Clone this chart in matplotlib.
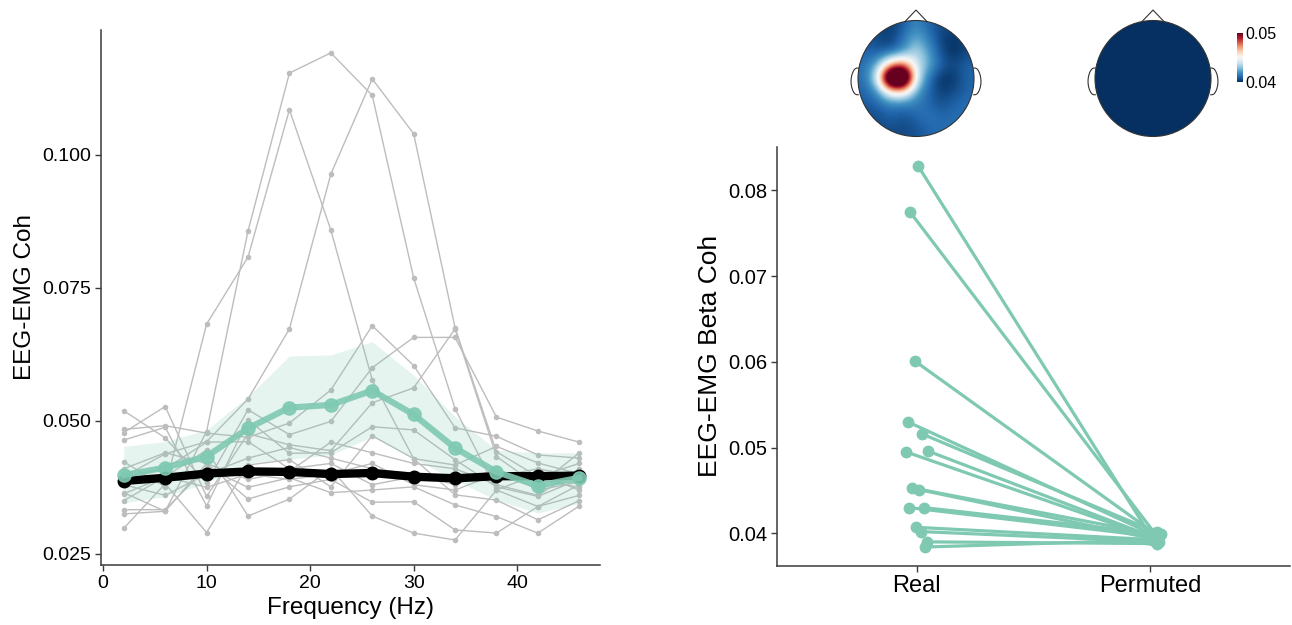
import numpy as np
import matplotlib
matplotlib.use("Agg")
import matplotlib.pyplot as plt
from matplotlib.patches import Circle
from matplotlib.cm import ScalarMappable
from matplotlib.colors import Normalize

plt.rcParams['font.family'] = ['Liberation Sans', 'DejaVu Sans']

# ---------------- data ----------------
freqs = [2, 6, 10, 14, 18, 22, 26, 30, 34, 38, 42, 46]

subject_coh = [
    [0.0365, 0.0330, 0.0480, 0.0857, 0.1154, 0.1192, 0.1112, 0.0769, 0.0523, 0.0370, 0.0339, 0.0380],
    [0.0423, 0.0376, 0.0682, 0.0808, 0.1085, 0.0859, 0.0577, 0.0429, 0.0417, 0.0452, 0.0421, 0.0400],
    [0.0395, 0.0438, 0.0461, 0.0541, 0.0673, 0.0964, 0.1143, 0.1040, 0.0675, 0.0442, 0.0395, 0.0420],
    [0.0484, 0.0491, 0.0477, 0.0469, 0.0496, 0.0558, 0.0679, 0.0604, 0.0487, 0.0471, 0.0436, 0.0430],
    [0.0519, 0.0468, 0.0383, 0.0521, 0.0474, 0.0499, 0.0600, 0.0657, 0.0657, 0.0507, 0.0481, 0.0460],
    [0.0478, 0.0527, 0.0358, 0.0476, 0.0455, 0.0444, 0.0534, 0.0562, 0.0673, 0.0433, 0.0378, 0.0440],
    [0.0464, 0.0488, 0.0340, 0.0502, 0.0439, 0.0440, 0.0489, 0.0483, 0.0427, 0.0376, 0.0358, 0.0390],
    [0.0298, 0.0382, 0.0290, 0.0417, 0.0427, 0.0376, 0.0472, 0.0429, 0.0361, 0.0351, 0.0314, 0.0350],
    [0.0333, 0.0333, 0.0412, 0.0375, 0.0393, 0.0365, 0.0370, 0.0376, 0.0342, 0.0320, 0.0289, 0.0340],
    [0.0325, 0.0330, 0.0420, 0.0353, 0.0376, 0.0390, 0.0347, 0.0348, 0.0295, 0.0289, 0.0339, 0.0360],
    [0.0363, 0.0395, 0.0445, 0.0321, 0.0353, 0.0410, 0.0321, 0.0289, 0.0276, 0.0370, 0.0400, 0.0370],
    [0.0395, 0.0410, 0.0460, 0.0461, 0.0410, 0.0420, 0.0380, 0.0395, 0.0400, 0.0395, 0.0410, 0.0395],
    [0.0380, 0.0360, 0.0400, 0.0430, 0.0450, 0.0430, 0.0410, 0.0400, 0.0380, 0.0410, 0.0370, 0.0385],
    [0.0410, 0.0440, 0.0420, 0.0390, 0.0405, 0.0460, 0.0440, 0.0420, 0.0410, 0.0380, 0.0360, 0.0410],
    [0.0350, 0.0395, 0.0375, 0.0400, 0.0390, 0.0400, 0.0420, 0.0380, 0.0370, 0.0400, 0.0390, 0.0375],
]

real_mean = [0.0398, 0.0412, 0.0433, 0.0486, 0.0525, 0.0530, 0.0557, 0.0512, 0.0449, 0.0404, 0.0378, 0.0393]
real_ci_low = [0.0346, 0.0358, 0.0383, 0.0421, 0.0428, 0.0436, 0.0470, 0.0430, 0.0389, 0.0351, 0.0327, 0.0345]
real_ci_high = [0.0452, 0.0461, 0.0483, 0.0546, 0.0622, 0.0624, 0.0649, 0.0586, 0.0508, 0.0445, 0.0440, 0.0440]

perm_mean = [0.0387, 0.0393, 0.0401, 0.0405, 0.0404, 0.0400, 0.0402, 0.0395, 0.0392, 0.0396, 0.0396, 0.0397]
perm_ci_low = [0.0381, 0.0388, 0.0396, 0.0400, 0.0399, 0.0395, 0.0397, 0.0390, 0.0387, 0.0391, 0.0391, 0.0392]
perm_ci_high = [0.0393, 0.0398, 0.0406, 0.0410, 0.0409, 0.0405, 0.0407, 0.0400, 0.0397, 0.0401, 0.0401, 0.0402]

conditions = ["Real", "Permuted"]
beta_real = [0.0829, 0.0775, 0.0601, 0.0530, 0.0516, 0.0495, 0.0496, 0.0453,
             0.0451, 0.0430, 0.0430, 0.0407, 0.0402, 0.0390, 0.0384]
beta_perm = [0.0398, 0.0400, 0.0396, 0.0399, 0.0401, 0.0397, 0.0395, 0.0398,
             0.0394, 0.0396, 0.0399, 0.0393, 0.0390, 0.0388, 0.0392]
real_jitter = [0.004, -0.030, -0.009, -0.039, 0.021, -0.047, 0.047, -0.021,
               0.009, -0.034, 0.030, -0.004, 0.017, 0.043, 0.034]
perm_jitter = [0.000, 0.020, 0.040, 0.010, 0.030, -0.010, 0.020, 0.035,
               0.005, 0.025, 0.045, -0.015, 0.040, 0.030, 0.010]

# topography grids (rows: front -> back, cols: left -> right)
topo_real = [
    [0.0408, 0.0405, 0.0402, 0.0408, 0.0418, 0.0410, 0.0405, 0.0405, 0.0408],
    [0.0408, 0.0405, 0.0402, 0.0412, 0.0428, 0.0415, 0.0403, 0.0400, 0.0405],
    [0.0410, 0.0408, 0.0410, 0.0420, 0.0437, 0.0422, 0.0405, 0.0400, 0.0405],
    [0.0412, 0.0425, 0.0470, 0.0485, 0.0442, 0.0425, 0.0408, 0.0405, 0.0410],
    [0.0412, 0.0440, 0.0560, 0.0570, 0.0445, 0.0412, 0.0400, 0.0402, 0.0410],
    [0.0410, 0.0418, 0.0458, 0.0462, 0.0425, 0.0410, 0.0402, 0.0405, 0.0410],
    [0.0408, 0.0410, 0.0415, 0.0415, 0.0415, 0.0410, 0.0406, 0.0410, 0.0412],
    [0.0405, 0.0405, 0.0410, 0.0406, 0.0410, 0.0414, 0.0410, 0.0412, 0.0412],
    [0.0405, 0.0405, 0.0405, 0.0405, 0.0406, 0.0410, 0.0412, 0.0412, 0.0408],
]
topo_perm = [
    [0.0390, 0.0390, 0.0390],
    [0.0390, 0.0390, 0.0390],
    [0.0397, 0.0390, 0.0397],
]
cbar_ticks = [0.04, 0.05]

# ---------------- style ----------------
GREEN = '#7fc9b2'
GREY = '#bdbdbd'
SPINE = '#3a3a3a'

fig = plt.figure(figsize=(12.92, 6.25), dpi=100)

# ---------------- left panel ----------------
ax1 = fig.add_axes([101/1292, 1-565/625, 499/1292, 535/625])
for s in subject_coh:
    ax1.plot(freqs, s, color=GREY, lw=1.0, marker='o', ms=4, mec='none', zorder=2)

ax1.fill_between(freqs, real_ci_low, real_ci_high, color=GREEN, alpha=0.2, lw=0, zorder=3)
ax1.fill_between(freqs, perm_ci_low, perm_ci_high, color='#1d4a3b', alpha=0.9, lw=0, zorder=4)
ax1.plot(freqs, perm_mean, color='black', lw=6, marker='o', ms=9, zorder=5, clip_on=False)
ax1.plot(freqs, real_mean, color=GREEN, lw=4.5, marker='o', ms=9.5, alpha=0.9, zorder=6, clip_on=False)

ax1.set_xlim(-0.2, 48)
ax1.set_ylim(0.0229, 0.1235)
ax1.set_xticks([0, 10, 20, 30, 40])
ax1.set_yticks([0.025, 0.050, 0.075, 0.100])
ax1.set_yticklabels(['0.025', '0.050', '0.075', '0.100'])
ax1.set_xlabel('Frequency (Hz)', fontsize=17.5, labelpad=4)
ax1.set_ylabel('EEG-EMG Coh', fontsize=17.5)
ax1.yaxis.set_label_coords(-0.13, 0.5)

# ---------------- right panel ----------------
ax2 = fig.add_axes([777/1292, 1-565.7/625, 513/1292, 419/625])
for r, p, jr, jp in zip(beta_real, beta_perm, real_jitter, perm_jitter):
    ax2.plot([0 + jr, 1 + jp], [r, p], color=GREEN, lw=2.3, marker='o', ms=7.5,
             solid_capstyle='round', zorder=3)
ax2.set_xlim(-0.6, 1.6)
ax2.set_ylim(0.03622, 0.0851)
ax2.set_xticks([0, 1])
ax2.set_xticklabels(conditions, fontsize=17)
ax2.set_yticks([0.04, 0.05, 0.06, 0.07, 0.08])
ax2.set_yticklabels(['0.04', '0.05', '0.06', '0.07', '0.08'])
ax2.set_ylabel('EEG-EMG Beta Coh', fontsize=19)
ax2.yaxis.set_label_coords(-0.107, 0.5)

for ax, ysz in ((ax1, 14), (ax2, 14.5)):
    for side in ('top', 'right'):
        ax.spines[side].set_visible(False)
    for side in ('left', 'bottom'):
        ax.spines[side].set_color(SPINE)
        ax.spines[side].set_linewidth(1.1)
    ax.tick_params(axis='both', direction='out', length=4, width=1, color=SPINE, pad=3)
    ax.tick_params(axis='y', labelsize=ysz)
ax1.tick_params(axis='x', labelsize=14)

# ---------------- topoplots ----------------
def draw_topo(cx, cy, grid):
    r = 58.0
    half = 1.3 * r
    tax = fig.add_axes([(cx - half)/1292, 1 - (cy + half)/625, 2*half/1292, 2*half/625])
    tax.set_xlim(-1.3, 1.3)
    tax.set_ylim(-1.3, 1.3)
    tax.set_aspect('auto')
    tax.axis('off')
    im = tax.imshow(grid, extent=[-1, 1, -1, 1], cmap='RdBu_r', vmin=0.04, vmax=0.05,
                    interpolation='bicubic', origin='upper', aspect='auto')
    clip = Circle((0, 0), 1.0, transform=tax.transData)
    im.set_clip_path(clip)
    tax.add_patch(Circle((0, 0), 1.0, fill=False, ec='#333333', lw=0.8))
    tax.plot([-0.19, 0, 0.19], [0.982, 1.18, 0.982], color='#333333', lw=0.8)
    t = np.linspace(0, 1, 50)
    ey = 0.18 - 0.46 * t
    ex = 1.0 + 0.1 * np.sin(np.pi * t) ** 0.5 + 0.02
    for sgn in (-1, 1):
        tax.plot(sgn * np.concatenate([[0.995], ex, [0.995]]),
                 np.concatenate([[0.18], ey, [-0.28]]), color='#333333', lw=0.8)
    return im

draw_topo(916, 78.5, topo_real)
draw_topo(1153, 78.5, topo_perm)

cax = fig.add_axes([1237/1292, 1 - 82/625, 6/1292, 49/625])
sm = ScalarMappable(norm=Normalize(0.04, 0.05), cmap='RdBu_r')
cb = fig.colorbar(sm, cax=cax, ticks=cbar_ticks)
cb.outline.set_visible(False)
cb.ax.set_yticklabels(['0.04', '0.05'])
cb.ax.tick_params(length=0, labelsize=11.5, pad=2)

fig.savefig('out.png', dpi=100)
